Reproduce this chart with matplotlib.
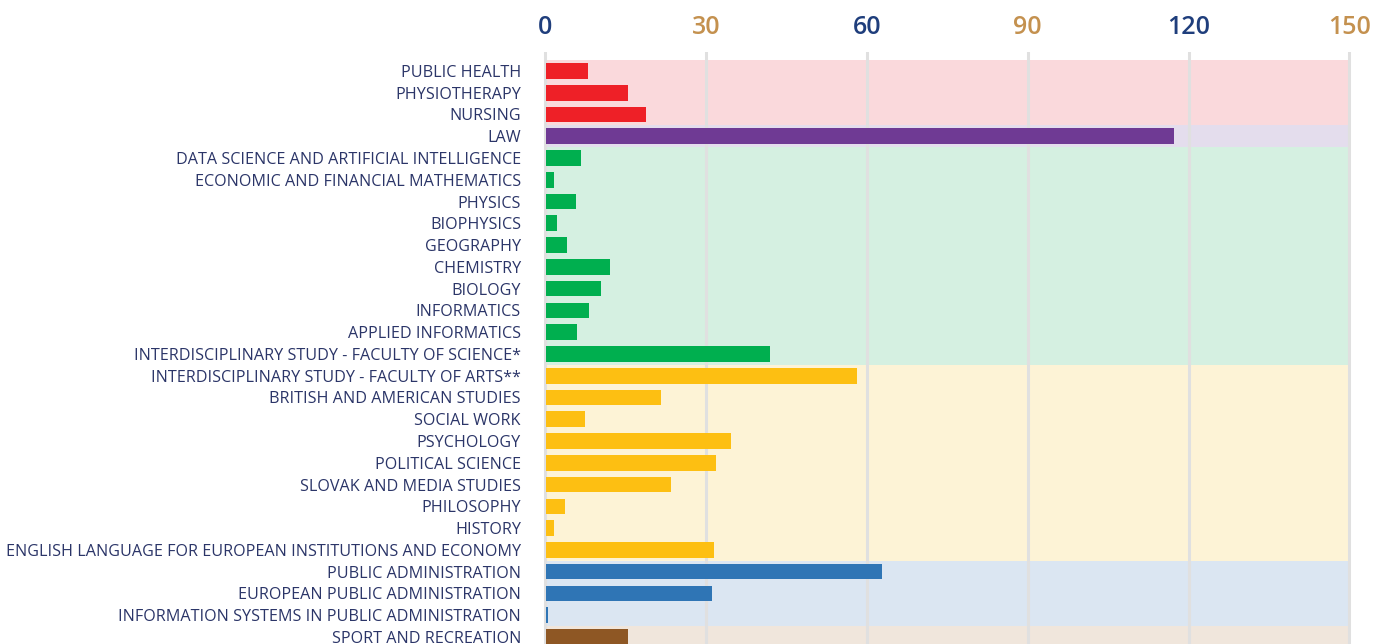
import matplotlib.pyplot as plt

programmes = [
    'PUBLIC HEALTH', 'PHYSIOTHERAPY', 'NURSING', 'LAW',
    'DATA SCIENCE AND ARTIFICIAL INTELLIGENCE', 'ECONOMIC AND FINANCIAL MATHEMATICS',
    'PHYSICS', 'BIOPHYSICS', 'GEOGRAPHY', 'CHEMISTRY', 'BIOLOGY', 'INFORMATICS',
    'APPLIED INFORMATICS', 'INTERDISCIPLINARY STUDY - FACULTY OF SCIENCE*',
    'INTERDISCIPLINARY STUDY - FACULTY OF ARTS**', 'BRITISH AND AMERICAN STUDIES',
    'SOCIAL WORK', 'PSYCHOLOGY', 'POLITICAL SCIENCE', 'SLOVAK AND MEDIA STUDIES',
    'PHILOSOPHY', 'HISTORY', 'ENGLISH LANGUAGE FOR EUROPEAN INSTITUTIONS AND ECONOMY',
    'PUBLIC ADMINISTRATION', 'EUROPEAN PUBLIC ADMINISTRATION',
    'INFORMATION SYSTEMS IN PUBLIC ADMINISTRATION', 'SPORT AND RECREATION',
]
values = [
    7.8, 15.3, 18.5, 117.1,
    6.4, 1.5, 5.6, 1.9, 3.9, 11.8, 10.1, 7.9, 5.8, 41.7,
    57.9, 21.3, 7.3, 34.5, 31.7, 23.3, 3.5, 1.5, 31.2,
    62.6, 30.8, 0.4,
    15.3,
]
# faculty of each programme (index into the colour lists)
faculty = [0, 0, 0, 1] + [2] * 10 + [3] * 9 + [4] * 3 + [5]

bar_colors = ['#ee2027', '#6f3a94', '#00af4f', '#fdbf12', '#2f75b5', '#8e5724']
band_colors = ['#fad9dc', '#e4dded', '#d5f0e1', '#fdf3d6', '#dbe6f2', '#f0e6dc']

ticks = [0, 30, 60, 90, 120, 150]
tick_colors = ['#1f3e7c', '#c4914f', '#1f3e7c', '#c4914f', '#1f3e7c', '#c4914f']

W, H = 1373, 644
fig = plt.figure(figsize=(W / 100, H / 100), dpi=100)

# pixel layout: x=0 at 545 px, 5.363 px per unit; rows 21.77 px apart
ppu = 5.363
row = 21.77
x0, x1 = -1.0, 151.0
y_top, y_bot = -0.87, 26.5
left_px = 545 + x0 * ppu
width_px = (x1 - x0) * ppu
top_px = 52
height_px = (y_bot - y_top) * row
ax = fig.add_axes([left_px / W, 1 - (top_px + height_px) / H, width_px / W, height_px / H])
ax.set_xlim(x0, x1)
ax.set_ylim(y_bot, y_top)

y = list(range(len(programmes)))

# faculty background bands
start = 0
for i in range(1, len(faculty) + 1):
    if i == len(faculty) or faculty[i] != faculty[start]:
        ax.barh((start + i - 1) / 2, 150, height=i - start, left=0,
                color=band_colors[faculty[start]], zorder=0)
        start = i

for t in ticks:
    ax.axvline(t, color='#e0e0e0', lw=2.2, zorder=1)

ax.barh(y, values, height=0.72, left=0.25,
        color=[bar_colors[f] for f in faculty], zorder=2)

ax.set_yticks(y)
ax.set_yticklabels(programmes, fontsize=11.6, color='#2b3568', family='Open Sans')
ax.tick_params(axis='y', length=0, pad=13.5)

ax.xaxis.tick_top()
ax.set_xticks(ticks)
ax.set_xticklabels([str(t) for t in ticks], fontsize=18, family='Open Sans',
                   fontweight='semibold')
for lbl, c in zip(ax.get_xticklabels(), tick_colors):
    lbl.set_color(c)
ax.tick_params(axis='x', length=0, pad=9)

for s in ax.spines.values():
    s.set_visible(False)

fig.savefig('out.png', dpi=100)
